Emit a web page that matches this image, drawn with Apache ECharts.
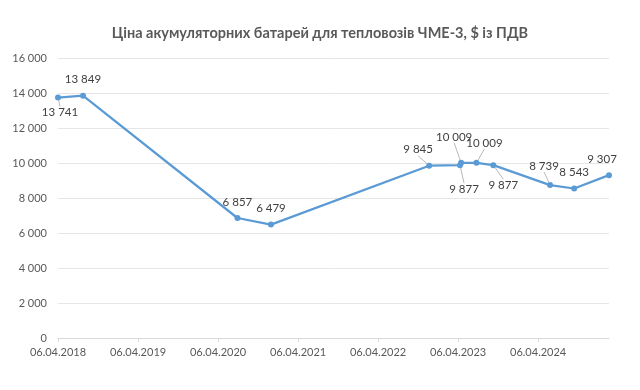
<!DOCTYPE html>
<html><head><meta charset="utf-8">
<script src="https://cdn.jsdelivr.net/npm/echarts@6/dist/echarts.min.js"></script>
<style>html,body{margin:0;padding:0;background:#fff}#c{width:640px;height:390px}</style>
</head><body><div id="c"></div>
<script>
const title = 'Ціна акумуляторних батарей для тепловозів ЧМЕ-3, $ із ПДВ';
const dates = ['2018-04-06','2018-07-29','2020-07-03','2020-12-03','2022-11-25','2023-04-15','2023-04-20','2023-06-29','2023-09-14','2024-05-30','2024-09-17','2025-02-23'];
const prices = [13741,13849,6857,6479,9845,9877,10009,10009,9877,8739,8543,9307];
const xTickLabels = ['06.04.2018','06.04.2019','06.04.2020','06.04.2021','06.04.2022','06.04.2023','06.04.2024','06.04.2025'];
const yMin = 0, yMax = 16000, yStep = 2000;

// label placement (style only): [dx, dy, leader]
const labelOffsets = [[2,29,1],[0,-2,0],[0,-2,0],[0,-2,0],[-11,-2,1],[4,38,1],[-7,-12,1],[8,-6,1],[10,34,1],[-6,-5,1],[0,-2,0],[-7,-2,0]];

const DAY = 86400000;
const base = Date.UTC(2018,3,6);
const toDays = s => { const p = s.split('-').map(Number); return (Date.UTC(p[0],p[1]-1,p[2]) - base)/DAY; };
const fmt = v => String(v).replace(/\B(?=(\d{3})+(?!\d))/g, ' ');
const YEAR = 365.25;

const data = dates.map((d,i) => ({
  value: [toDays(d), prices[i]],
  labelLine: { show: !!labelOffsets[i][2] }
}));

const font = 'Lato, "Open Sans", sans-serif';
const chart = echarts.init(document.getElementById('c'), null, {renderer:'canvas'});
chart.setOption({
  animation: false,
  title: { text: title, left: 'center', top: 21,
    textStyle: { fontFamily: font, fontSize: 14.5, fontWeight: 'bold', color: '#595959' } },
  grid: { left: 58, right: 31, top: 58, bottom: 52, containLabel: false },
  xAxis: {
    type: 'value', min: 0, max: toDays(dates[dates.length-1]), interval: YEAR,
    axisLine: { show: true, lineStyle: { color: '#d9d9d9', width: 1 } },
    axisTick: { show: true, length: 4, lineStyle: { color: '#d9d9d9' } },
    splitLine: { show: false },
    axisLabel: { margin: 9, color: '#595959', fontFamily: font, fontSize: 11,
      showMaxLabel: false,
      formatter: v => { const n = Math.round(v/YEAR); return (Math.abs(v - n*YEAR) < 1) ? (xTickLabels[n] || '') : ''; } }
  },
  yAxis: {
    type: 'value', min: yMin, max: yMax, interval: yStep,
    axisLine: { show: false }, axisTick: { show: false },
    splitLine: { lineStyle: { color: '#e6e6e6', width: 1 } },
    axisLabel: { margin: 11, color: '#595959', fontFamily: font, fontSize: 11, formatter: v => fmt(v) }
  },
  series: [{
    type: 'line', data: data,
    symbol: 'circle', symbolSize: 6,
    lineStyle: { color: '#5b9bd5', width: 2.25 },
    itemStyle: { color: '#5b9bd5' },
    label: { show: true, position: 'top', distance: 5, color: '#404040',
      fontFamily: font, fontSize: 11.5, formatter: p => fmt(p.value[1]) },
    labelLine: { show: false, lineStyle: { color: '#a6a6a6', width: 0.8 } },
    labelLayout: p => ({ dx: labelOffsets[p.dataIndex][0], dy: labelOffsets[p.dataIndex][1] })
  }]
});
</script></body></html>
